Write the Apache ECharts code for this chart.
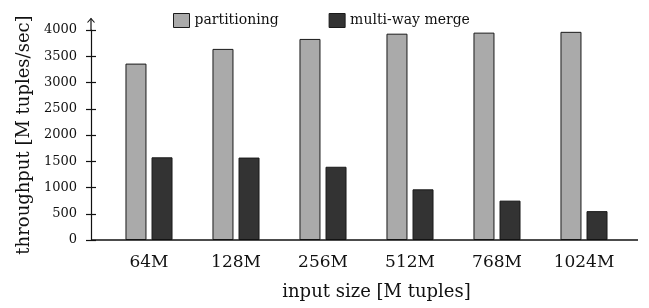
<!DOCTYPE html>
<html>
<head>
<meta charset="utf-8">
<script src="https://cdn.jsdelivr.net/npm/echarts@6/dist/echarts.min.js"></script>
<style>
  html, body { margin: 0; padding: 0; background: #fff; }
  #main { width: 649px; height: 308px; }
</style>
</head>
<body>
<div id="main"></div>
<script>
// data
var categories = ['64M', '128M', '256M', '512M', '768M', '1024M'];
var partitioning = [3360, 3640, 3830, 3930, 3950, 3965];
var multiWayMerge = [1575, 1570, 1395, 965, 750, 550];
var yMax = 4000;
var yStep = 500;

var font = 'DejaVu Serif';
var chart = echarts.init(document.getElementById('main'));

var gridLeft = 105.5, gridRight = 21.5;
var axisX = 91;

chart.setOption({
    animation: false,
    grid: { left: gridLeft, right: gridRight, top: 30, bottom: 68 },
    legend: {
        left: 168, top: 8,
        itemWidth: 16, itemHeight: 14, itemGap: 50,
        icon: 'rect',
        itemStyle: { borderColor: '#1a1a1a', borderWidth: 1 },
        textStyle: { fontFamily: font, fontSize: 14, color: '#111' },
        data: ['partitioning', 'multi-way merge']
    },
    xAxis: {
        type: 'category',
        data: categories,
        axisLine: { show: false },
        axisTick: { show: false },
        axisLabel: { fontFamily: font, fontSize: 17, color: '#111', margin: 14 },
        name: 'input size [M tuples]',
        nameLocation: 'middle',
        nameGap: 43,
        nameTextStyle: { fontFamily: font, fontSize: 18, color: '#111', padding: [0, 0, 0, 20] }
    },
    yAxis: [{
        type: 'value',
        min: 0, max: yMax, interval: yStep,
        offset: gridLeft - axisX,
        splitLine: { show: false },
        axisLine: { show: true, lineStyle: { color: '#111', width: 1.2 } },
        axisTick: { show: true, length: 5, lineStyle: { color: '#111', width: 1.2 } },
        axisLabel: {
            fontFamily: font, fontSize: 13, color: '#111', margin: 14,
            formatter: function (v) { return String(v); }
        },
        name: 'throughput [M tuples/sec]',
        nameLocation: 'middle',
        nameGap: 57,
        nameTextStyle: { fontFamily: font, fontSize: 18, color: '#111' }
    }, {
        // right-side axis moved onto the left one: draws the inner half of the ticks
        type: 'value',
        position: 'right',
        min: 0, max: yMax, interval: yStep,
        offset: -(649 - gridRight - axisX),
        splitLine: { show: false },
        axisLine: { show: false },
        axisTick: { show: true, length: 5, lineStyle: { color: '#111', width: 1.2 } },
        axisLabel: { show: false }
    }],
    series: [{
        name: 'partitioning',
        type: 'bar',
        data: partitioning,
        barWidth: 21,
        barGap: '24%',
        itemStyle: { color: '#aaaaaa', borderColor: '#1a1a1a', borderWidth: 1 }
    }, {
        name: 'multi-way merge',
        type: 'bar',
        data: multiWayMerge,
        barWidth: 21,
        itemStyle: { color: '#333333', borderColor: '#1a1a1a', borderWidth: 1 }
    }]
});

// x baseline runs past the plot on both sides; y axis goes on past 4000 to an open arrow
var y0 = chart.convertToPixel({ yAxisIndex: 0 }, 0);
var yTop = chart.convertToPixel({ yAxisIndex: 0 }, yMax);
var tipY = yTop - 11.5;
chart.setOption({
    graphic: [{
        type: 'line',
        shape: { x1: axisX, y1: y0, x2: 638, y2: y0 },
        style: { stroke: '#111', lineWidth: 1.4 },
        z: 10
    }, {
        type: 'line',
        shape: { x1: axisX, y1: yTop, x2: axisX, y2: tipY },
        style: { stroke: '#111', lineWidth: 1.2 },
        z: 10
    }, {
        type: 'polyline',
        shape: { points: [[axisX - 3.5, tipY + 4], [axisX, tipY], [axisX + 3.5, tipY + 4]] },
        style: { stroke: '#111', lineWidth: 1.1, fill: 'none' },
        z: 10
    }]
});
</script>
</body>
</html>
